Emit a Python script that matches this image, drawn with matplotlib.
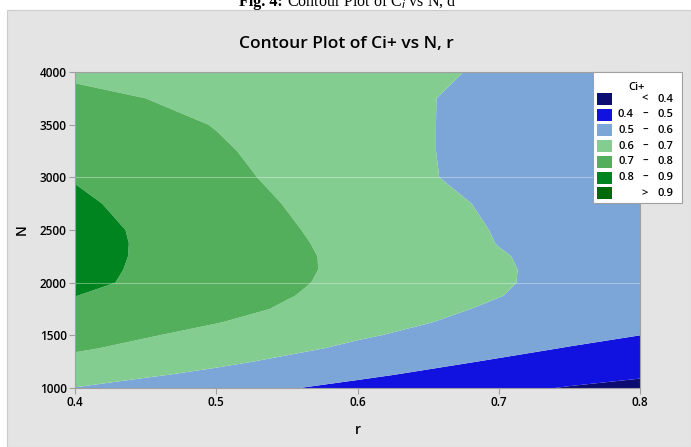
import numpy as np
import matplotlib
matplotlib.use('Agg')
import matplotlib.pyplot as plt
from matplotlib.patches import Rectangle

# Grid: r along columns, N along rows
r_vals = [0.40, 0.45, 0.50, 0.55, 0.60, 0.65, 0.70, 0.75, 0.80]
n_vals = [1000, 1125, 1250, 1375, 1500, 1625, 1750, 1875, 2000, 2125, 2250, 2375,
          2500, 2750, 3000, 3250, 3500, 3750, 4000]
ci_grid = [
    [0.598, 0.568, 0.536, 0.505, 0.477, 0.450, 0.423, 0.394, 0.375],  # 1000
    [0.636, 0.609, 0.581, 0.548, 0.515, 0.486, 0.461, 0.436, 0.410],  # 1125
    [0.675, 0.645, 0.616, 0.585, 0.552, 0.520, 0.491, 0.466, 0.442],  # 1250
    [0.710, 0.679, 0.648, 0.616, 0.585, 0.555, 0.524, 0.495, 0.470],  # 1375
    [0.733, 0.706, 0.675, 0.642, 0.609, 0.582, 0.554, 0.527, 0.500],  # 1500
    [0.757, 0.730, 0.703, 0.670, 0.636, 0.602, 0.573, 0.544, 0.515],  # 1625
    [0.781, 0.752, 0.728, 0.691, 0.655, 0.618, 0.588, 0.558, 0.530],  # 1750
    [0.801, 0.769, 0.736, 0.704, 0.670, 0.636, 0.602, 0.571, 0.540],  # 1875
    [0.820, 0.785, 0.749, 0.712, 0.677, 0.642, 0.607, 0.579, 0.550],  # 2000
    [0.826, 0.788, 0.752, 0.716, 0.680, 0.644, 0.608, 0.578, 0.550],  # 2125
    [0.830, 0.790, 0.753, 0.716, 0.679, 0.642, 0.605, 0.577, 0.550],  # 2250
    [0.832, 0.790, 0.752, 0.713, 0.674, 0.636, 0.598, 0.574, 0.550],  # 2375
    [0.830, 0.788, 0.748, 0.708, 0.669, 0.631, 0.595, 0.573, 0.550],  # 2500
    [0.815, 0.776, 0.737, 0.697, 0.656, 0.616, 0.590, 0.569, 0.550],  # 2750
    [0.795, 0.758, 0.722, 0.684, 0.644, 0.603, 0.584, 0.567, 0.550],  # 3000
    [0.772, 0.741, 0.710, 0.676, 0.639, 0.602, 0.584, 0.567, 0.550],  # 3250
    [0.745, 0.724, 0.697, 0.665, 0.634, 0.602, 0.584, 0.567, 0.550],  # 3500
    [0.720, 0.700, 0.676, 0.651, 0.627, 0.602, 0.585, 0.567, 0.550],  # 3750
    [0.685, 0.672, 0.657, 0.641, 0.625, 0.609, 0.591, 0.570, 0.550],  # 4000
]
levels = [0.3, 0.4, 0.5, 0.6, 0.7, 0.8, 0.9, 1.0]
legend_low = ['', '0.4', '0.5', '0.6', '0.7', '0.8', '']
legend_high = ['0.4', '0.5', '0.6', '0.7', '0.8', '0.9', '0.9']
legend_sign = ['<', '\u2013', '\u2013', '\u2013', '\u2013', '\u2013', '>']
colors = ['#0c0c72', '#1212e0', '#7ca6d8', '#83cd91', '#54af5c', '#00841f', '#006a0a']

W, H = 691, 447
plt.rcParams['font.family'] = ['Open Sans', 'DejaVu Sans']

fig = plt.figure(figsize=(W / 100, H / 100), dpi=100)
fig.patch.set_facecolor('white')

def fx(x):
    return x / W

def fy(y):
    return 1 - y / H

# Grey Minitab panel, behind everything
fig.patches.append(Rectangle((fx(7), 0), 1 - fx(7), fy(10), transform=fig.transFigure,
                             facecolor='#e4e4e4', edgecolor='#cccccc', lw=0.8, zorder=-10))

# Cut-off caption at the top
fig.text(fx(283), fy(6), 'Fig. 4:', family='Liberation Serif', weight='bold', size=11.5,
         ha='right', va='baseline')
fig.text(fx(287), fy(6), 'Contour Plot of C$_i$ vs N, d', family='Liberation Serif', size=11.5,
         ha='left', va='baseline')

ax = fig.add_axes([fx(75), fy(388), fx(640) - fx(75), fy(72) - fy(388)])
R, N = np.meshgrid(r_vals, n_vals)
ax.contourf(R, N, np.array(ci_grid), levels=levels, colors=colors, antialiased=True)

for yv in [2000, 3000]:
    ax.axhline(yv, color='white', alpha=0.35, lw=0.8)

ax.set_xlim(0.4, 0.8)
ax.set_ylim(1000, 4000)
ax.set_xticks([0.4, 0.5, 0.6, 0.7, 0.8])
ax.set_xticklabels(['0.4', '0.5', '0.6', '0.7', '0.8'])
ax.set_yticks([1000, 1500, 2000, 2500, 3000, 3500, 4000])
for s in ax.spines.values():
    s.set_color('#a0a0a0')
ax.tick_params(colors='#a0a0a0', labelcolor='black', length=4, width=0.8,
               labelsize=8.5, pad=2)
for lab in ax.get_xticklabels() + ax.get_yticklabels():
    lab.set_fontweight('semibold')
ax.set_xlabel('r', size=10, weight='semibold', labelpad=10)
ax.set_ylabel('N', size=10, weight='semibold', rotation=90, labelpad=8)

fig.text(fx(346), fy(44), 'Contour Plot of Ci+ vs N, r', size=12.5, weight='semibold',
         ha='center', va='center')

# Legend box drawn by hand
fig.patches.append(Rectangle((fx(593), fy(203)), fx(682) - fx(593), fy(72) - fy(203),
                             transform=fig.transFigure, facecolor='white',
                             edgecolor='#a0a0a0', lw=0.8, zorder=2))
fig.text(fx(637), fy(88), 'Ci+', size=8, weight='semibold', ha='center', va='center', zorder=3)
for i, c in enumerate(colors):
    yc = 99 + i * 15.7
    fig.patches.append(Rectangle((fx(597), fy(yc + 6)), fx(612) - fx(597), fy(yc - 6) - fy(yc + 6),
                                 transform=fig.transFigure, facecolor=c, edgecolor='none', zorder=3))
    fig.text(fx(634), fy(yc), legend_low[i], size=8, weight='semibold', ha='right', va='center', zorder=3)
    fig.text(fx(645), fy(yc), legend_sign[i], size=8, weight='semibold', ha='center', va='center', zorder=3)
    fig.text(fx(673), fy(yc), legend_high[i], size=8, weight='semibold', ha='right', va='center', zorder=3)

fig.savefig('out.png', dpi=100)
